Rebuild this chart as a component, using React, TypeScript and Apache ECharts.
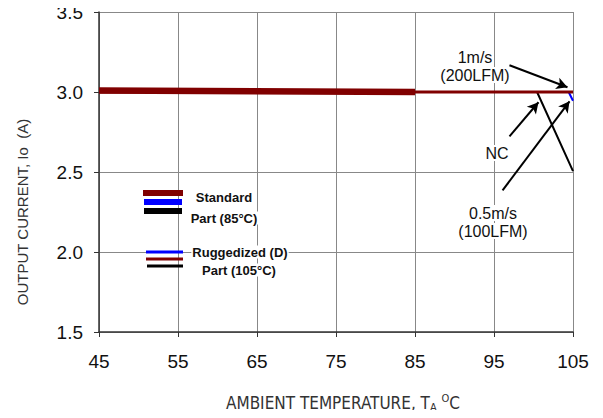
import React, { useEffect, useRef } from "react";
import * as echarts from "echarts";

// Data (ambient temperature °C, output current A)
const standardTemps = [45, 85];
const standardCurrent = [3.01, 3.0];
const ruggedRedTemps = [45, 105];
const ruggedRedCurrent = [3.0, 3.0];
const blueTemps = [45, 104.45, 105];
const blueCurrent = [3.0, 3.0, 2.945];
const ncTemps = [45, 100.45, 105];
const ncCurrent = [3.0, 3.0, 2.505];

const xTicks = [45, 55, 65, 75, 85, 95, 105];
const yTicks = [1.5, 2.0, 2.5, 3.0, 3.5];

// Annotation arrows (data coordinates): [fromX, fromY, toX, toY]
const arrows = [
  [96.96, 3.167, 104.3, 3.03],
  [96.96, 2.723, 100.63, 2.936],
  [96.08, 2.385, 104.56, 2.942],
];

const zip = (xs: number[], ys: number[]) => xs.map((x, i) => [x, ys[i]]);

const DARKRED = "#800000";
const BLUE = "#0000ff";
const BLACK = "#000000";

export default function App() {
  const ref = useRef<HTMLDivElement>(null);
  useEffect(() => {
    const chart = echarts.init(ref.current!, undefined, { renderer: "svg" });
    const annoFont = { fontFamily: "Liberation Sans, Arial", fontSize: 16, fill: "#111" };
    const legFont = { fontFamily: "Liberation Sans, Arial", fontSize: 13, fontWeight: "bold" as const, fill: "#111" };
    const narrow = "'Liberation Sans Narrow', 'DejaVu Sans Condensed', 'Liberation Sans'";
    const txt = (x: number, y: number, text: string, font: any) => ({
      type: "text",
      x,
      y,
      z: 50,
      style: {
        text,
        ...font,
        align: "center",
        verticalAlign: "middle",
        backgroundColor: "#fff",
        padding: [0, 1],
      },
    });
    const seg = (x1: number, x2: number, y: number, w: number, color: string) => ({
      type: "line",
      z: 50,
      shape: { x1, y1: y, x2, y2: y },
      style: { stroke: color, lineWidth: w },
    });
    chart.setOption({
      animation: false,
      backgroundColor: "#fff",
      grid: { left: 99, right: 30, top: 12, bottom: 86, containLabel: false },
      xAxis: {
        type: "value",
        min: 45,
        max: 105,
        interval: 10,
        axisLine: { show: true, onZero: false, lineStyle: { color: "#333", width: 1.5 } },
        axisTick: { show: true, length: 5, lineStyle: { color: "#333" } },
        axisLabel: {
          margin: 20,
          fontSize: 19,
          fontFamily: "Liberation Sans, Arial",
          color: "#111",
          formatter: (v: number) => (xTicks.includes(v) ? String(v) : ""),
        },
        splitLine: { show: true, lineStyle: { color: "#888", width: 1 } },
      },
      yAxis: {
        type: "value",
        min: 1.5,
        max: 3.5,
        interval: 0.5,
        axisLine: { show: true, onZero: false, lineStyle: { color: "#333", width: 1.5 } },
        axisTick: { show: true, length: 5, lineStyle: { color: "#333" } },
        axisLabel: {
          margin: 16,
          fontSize: 19,
          fontFamily: "Liberation Sans, Arial",
          color: "#111",
          formatter: (v: number) => (yTicks.some((t) => Math.abs(t - v) < 1e-9) ? v.toFixed(1) : ""),
        },
        splitLine: { show: true, lineStyle: { color: "#888", width: 1 } },
      },
      series: [
        {
          type: "line",
          data: zip(ncTemps, ncCurrent),
          symbol: "none",
          lineStyle: { color: BLACK, width: 2 },
          z: 3,
          markLine: {
            silent: true,
            symbol: ["none", "arrow"],
            symbolSize: [9, 11],
            label: { show: false },
            lineStyle: { color: BLACK, width: 2, type: "solid" },
            data: arrows.map((a) => [
              { coord: [a[0], a[1]] },
              { coord: [a[2], a[3]] },
            ]),
          },
        },
        {
          type: "line",
          data: zip(blueTemps, blueCurrent),
          symbol: "none",
          lineStyle: { color: BLUE, width: 2 },
          z: 4,
        },
        {
          type: "line",
          data: zip(ruggedRedTemps, ruggedRedCurrent),
          symbol: "none",
          lineStyle: { color: DARKRED, width: 3 },
          z: 5,
        },
        {
          type: "line",
          data: zip(standardTemps, standardCurrent),
          symbol: "none",
          lineStyle: { color: DARKRED, width: 6.5 },
          z: 6,
        },
      ],
      graphic: [
        // legend swatches
        seg(143, 183, 193, 6, DARKRED),
        seg(144, 182, 202, 6, BLUE),
        seg(144, 182, 211, 6, BLACK),
        seg(146, 183, 252, 3, BLUE),
        seg(146, 183, 259, 3, DARKRED),
        seg(147, 183, 266, 3, BLACK),
        txt(224, 197, "Standard", legFont),
        txt(224, 218, "Part (85°C)", legFont),
        txt(240, 252, "Ruggedized (D)", legFont),
        txt(239, 270, "Part (105°C)", legFont),
        // annotations
        txt(475, 57, "1m/s", annoFont),
        txt(475, 75, "(200LFM)", annoFont),
        txt(497, 153, "NC", annoFont),
        txt(493, 213, "0.5m/s", annoFont),
        txt(493, 231, "(100LFM)", annoFont),
        // axis titles
        {
          type: "text",
          x: 22,
          y: 212,
          rotation: Math.PI / 2,
          style: {
            text: "OUTPUT CURRENT, Io  (A)",
            fontFamily: "Liberation Sans, Arial",
            fontSize: 15,
            fill: "#333",
            align: "center",
            verticalAlign: "middle",
          },
        },
        {
          type: "text",
          x: 343,
          y: 403,
          style: {
            text: "{a|AMBIENT TEMPERATURE, T}{s|A}{a| }{p|O}{a|C}",
            align: "center",
            verticalAlign: "middle",
            rich: {
              a: { fontFamily: narrow, fontSize: 17, fill: "#333", lineHeight: 20, verticalAlign: "middle" },
              s: { fontFamily: narrow, fontSize: 11, fill: "#333", lineHeight: 20, verticalAlign: "bottom", padding: [7, 0, 0, 0] },
              p: { fontFamily: narrow, fontSize: 11, fill: "#333", lineHeight: 20, verticalAlign: "top", padding: [0, 0, 5, 0] },
            },
          },
        },
      ],
    });
    return () => chart.dispose();
  }, []);
  return <div ref={ref} style={{ width: 603, height: 418, margin: -8 }} />;
}
